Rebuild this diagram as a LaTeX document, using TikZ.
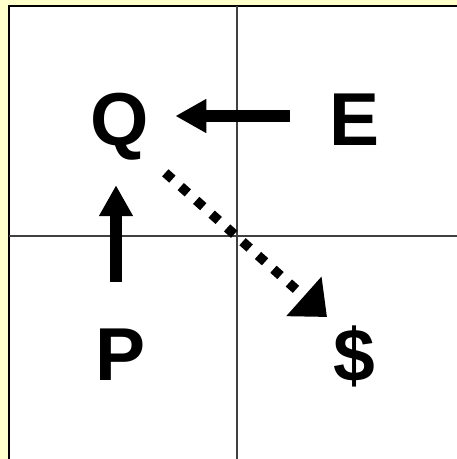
\documentclass[tikz,border=0pt]{standalone}
\usepackage{fontspec}
\setmainfont{Liberation Sans}
\usetikzlibrary{arrows.meta}
\definecolor{bgyellow}{RGB}{255,255,204}
\begin{document}
\begin{tikzpicture}[x=1pt,y=-1pt,
  letter/.style={font=\fontsize{75}{75}\selectfont\bfseries, inner sep=0pt, text height=54pt, text depth=0pt},
  bigarrow/.style={line width=11.5pt, -{Triangle[length=31pt,width=32pt]}},
  dotarrow/.style={line width=9.5pt, dash pattern=on 9.5pt off 11.2pt, -{Triangle[length=31pt,width=51pt]}},
  gridline/.style={line width=1.4pt, draw=black!75}]
\fill[bgyellow] (0,0) rectangle (457,459);
\useasboundingbox (0,0) rectangle (457,459);
\draw[line width=2.5pt, fill=white] (9,6) rectangle (480,480);
\draw[gridline] (237,6) -- (237,459);
\draw[gridline] (9,236) -- (457,236);
\node[letter] (Q) at (120,118) {Q};
\node[letter] (E) at (355,118) {E};
\node[letter] (P) at (121,353) {P};
\node[letter] (D) at (354,354) {\$};
\coordinate (d1) at (165.3,172.8);
\coordinate (d2) at (327,317);
\draw[bigarrow, shorten <=40pt, shorten >=26pt] ([yshift=2pt]E.west) -- ([yshift=2pt]E.west -| Q.east);
\draw[bigarrow, shorten <=44pt, shorten >=40pt] ([xshift=-5pt]P.north) -- ([xshift=-5pt]P.north |- Q.south);
\draw[dotarrow] (d1) -- (d2);
\end{tikzpicture}
\end{document}
